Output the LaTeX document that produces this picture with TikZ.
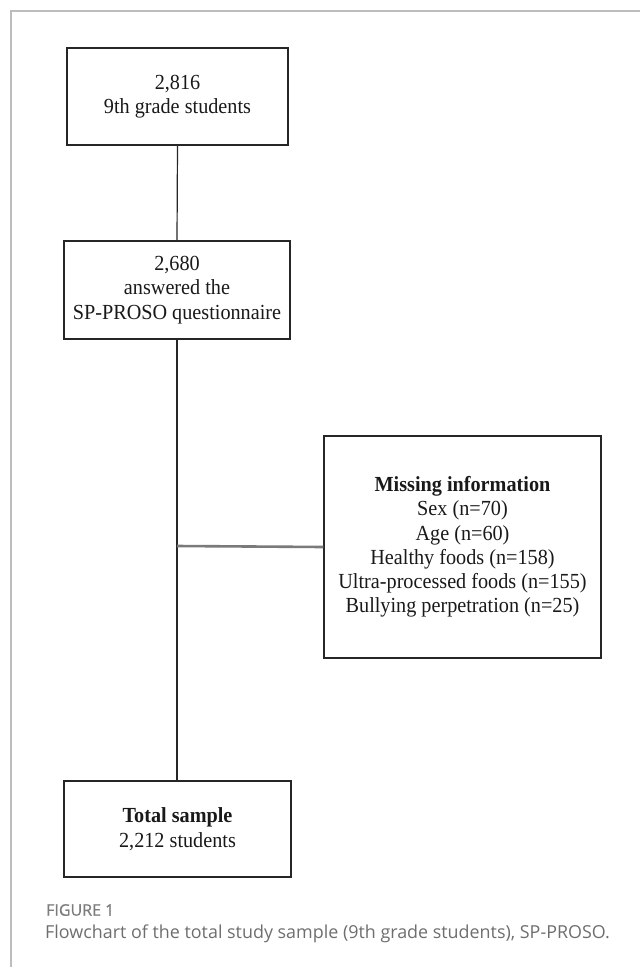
\documentclass[tikz,border=0pt]{standalone}
\usepackage{fontspec}
\setmainfont{Liberation Serif}[FakeStretch=0.94]
\newfontfamily\capfont{Open Sans}
\newfontfamily\capfontsb{Open Sans}[FakeBold=0.8]
\definecolor{framegray}{HTML}{BDBDBD}
\definecolor{linkgray}{HTML}{7A7A7A}
\definecolor{capgray}{HTML}{6E6E6E}
\definecolor{figgray}{HTML}{7C7C7C}
\begin{document}
\begin{tikzpicture}[x=1pt,y=-1pt,
  boxstyle/.style={draw=black!85, line width=1.2pt, inner sep=0pt, align=center,
    font=\fontsize{21.5}{24.5}\selectfont, text=black!90},
  linkstyle/.style={draw=black!85, line width=1.2pt},
  sidelink/.style={draw=linkgray, line width=2.6pt},
  framestyle/.style={draw=framegray, line width=1.6pt},
  captext/.style={anchor=west, inner sep=0pt}]
\useasboundingbox (0,0) rectangle (640,967);
% frame
\draw[framestyle] (11,967) -- (11,11) -- (640,11);
% boxes
\node[boxstyle, minimum width=221pt, minimum height=97pt] (b1) at (177.5,96.5)
  {2,816\\9th grade students};
\node[boxstyle, minimum width=226pt, minimum height=98pt] (b2) at (177,290)
  {2,680\\answered the\\SP-PROSO questionnaire};
\node[boxstyle, minimum width=277pt, minimum height=222pt, font=\fontsize{21.5}{24.2}\selectfont] (miss) at (462.5,547)
  {\textbf{Missing information}\\Sex (n=70)\\Age (n=60)\\Healthy foods (n=158)\\Ultra-processed foods (n=155)\\Bullying perpetration (n=25)};
\node[boxstyle, minimum width=227pt, minimum height=96pt] (total) at (177.5,829)
  {\textbf{Total sample}\\2,212 students};
% connectors
\coordinate (junc) at (177,546);
\draw[linkstyle] (b1.south) -- (b2.north);
\draw[linkstyle] (b2.south) -- (b2.south |- total.north);
\draw[sidelink] (junc) -- (miss.west);
% caption
\node[captext, text=figgray, font=\capfontsb\fontsize{16}{19}\selectfont] (fig) at (46,910) {FIGURE 1};
\node[captext, text=capgray, font=\capfont\fontsize{17.9}{22}\selectfont] (cap) at (45,934)
  {Flowchart of the total study sample (9th grade students), SP-PROSO.};
\end{tikzpicture}
\end{document}
